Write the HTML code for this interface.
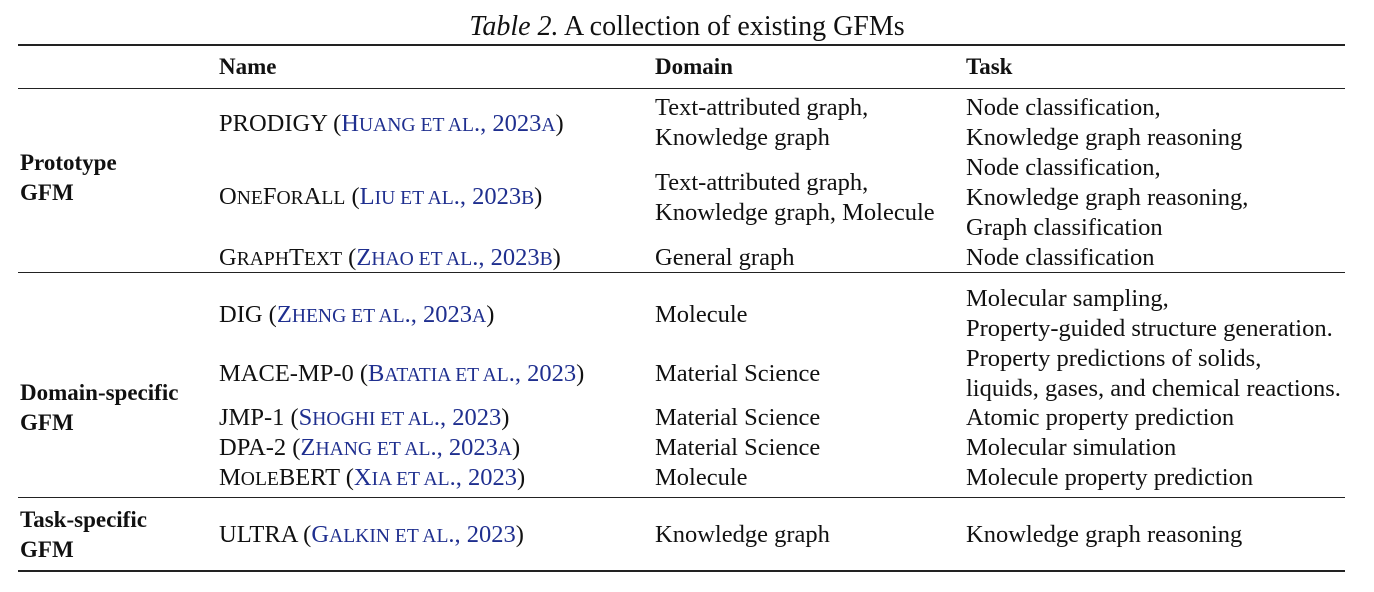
<!DOCTYPE html>
<html><head><meta charset="utf-8"><style>
body{margin:0;width:1374px;height:592px;background:#fff;position:relative;overflow:hidden;font-family:"Liberation Serif",serif;color:#111;}
.t{position:absolute;font-size:24.5px;line-height:30px;white-space:nowrap;}
.b{font-weight:bold;font-size:23px;}
s{text-decoration:none;font-size:0.8em;}
.c{color:#1f2f8f;}
.r{position:absolute;left:18px;width:1327px;background:#222;}
</style></head><body>
<div class="t" style="left:0;width:1374px;text-align:center;top:12px;font-size:28px;"><i>Table 2.</i> A collection of existing GFMs</div>
<div class="r" style="top:44px;height:2px"></div>
<div class="r" style="top:88px;height:1px"></div>
<div class="r" style="top:272px;height:1px"></div>
<div class="r" style="top:497px;height:1px"></div>
<div class="r" style="top:570px;height:2px"></div>

<div class="t b" style="left:219px;top:52px">Name</div>
<div class="t b" style="left:655px;top:52px">Domain</div>
<div class="t b" style="left:966px;top:52px">Task</div>

<div class="t b" style="left:20px;top:148px">Prototype<br>GFM</div>
<div class="t b" style="left:20px;top:378px">Domain-specific<br>GFM</div>
<div class="t b" style="left:20px;top:505px">Task-specific<br>GFM</div>

<div class="t" style="left:219px;top:109px">PRODIGY (<span class="c">H<s>UANG ET AL</s>., 2023<s>A</s></span>)</div>
<div class="t" style="left:655px;top:93px">Text-attributed graph,<br>Knowledge graph</div>
<div class="t" style="left:966px;top:93px">Node classification,<br>Knowledge graph reasoning</div>

<div class="t" style="left:219px;top:182px">O<s>NE</s>F<s>OR</s>A<s>LL</s> (<span class="c">L<s>IU ET AL</s>., 2023<s>B</s></span>)</div>
<div class="t" style="left:655px;top:168px">Text-attributed graph,<br>Knowledge graph, Molecule</div>
<div class="t" style="left:966px;top:153px">Node classification,<br>Knowledge graph reasoning,<br>Graph classification</div>

<div class="t" style="left:219px;top:243px">G<s>RAPH</s>T<s>EXT</s> (<span class="c">Z<s>HAO ET AL</s>., 2023<s>B</s></span>)</div>
<div class="t" style="left:655px;top:243px">General graph</div>
<div class="t" style="left:966px;top:243px">Node classification</div>

<div class="t" style="left:219px;top:300px">DIG (<span class="c">Z<s>HENG ET AL</s>., 2023<s>A</s></span>)</div>
<div class="t" style="left:655px;top:300px">Molecule</div>
<div class="t" style="left:966px;top:284px">Molecular sampling,<br>Property-guided structure generation.</div>

<div class="t" style="left:219px;top:359px">MACE-MP-0 (<span class="c">B<s>ATATIA ET AL</s>., 2023</span>)</div>
<div class="t" style="left:655px;top:359px">Material Science</div>
<div class="t" style="left:966px;top:344px">Property predictions of solids,<br>liquids, gases, and chemical reactions.</div>

<div class="t" style="left:219px;top:403px">JMP-1 (<span class="c">S<s>HOGHI ET AL</s>., 2023</span>)</div>
<div class="t" style="left:655px;top:403px">Material Science</div>
<div class="t" style="left:966px;top:403px">Atomic property prediction</div>

<div class="t" style="left:219px;top:433px">DPA-2 (<span class="c">Z<s>HANG ET AL</s>., 2023<s>A</s></span>)</div>
<div class="t" style="left:655px;top:433px">Material Science</div>
<div class="t" style="left:966px;top:433px">Molecular simulation</div>

<div class="t" style="left:219px;top:463px">M<s>OLE</s>BERT (<span class="c">X<s>IA ET AL</s>., 2023</span>)</div>
<div class="t" style="left:655px;top:463px">Molecule</div>
<div class="t" style="left:966px;top:463px">Molecule property prediction</div>

<div class="t" style="left:219px;top:520px">ULTRA (<span class="c">G<s>ALKIN ET AL</s>., 2023</span>)</div>
<div class="t" style="left:655px;top:520px">Knowledge graph</div>
<div class="t" style="left:966px;top:520px">Knowledge graph reasoning</div>
</body></html>
